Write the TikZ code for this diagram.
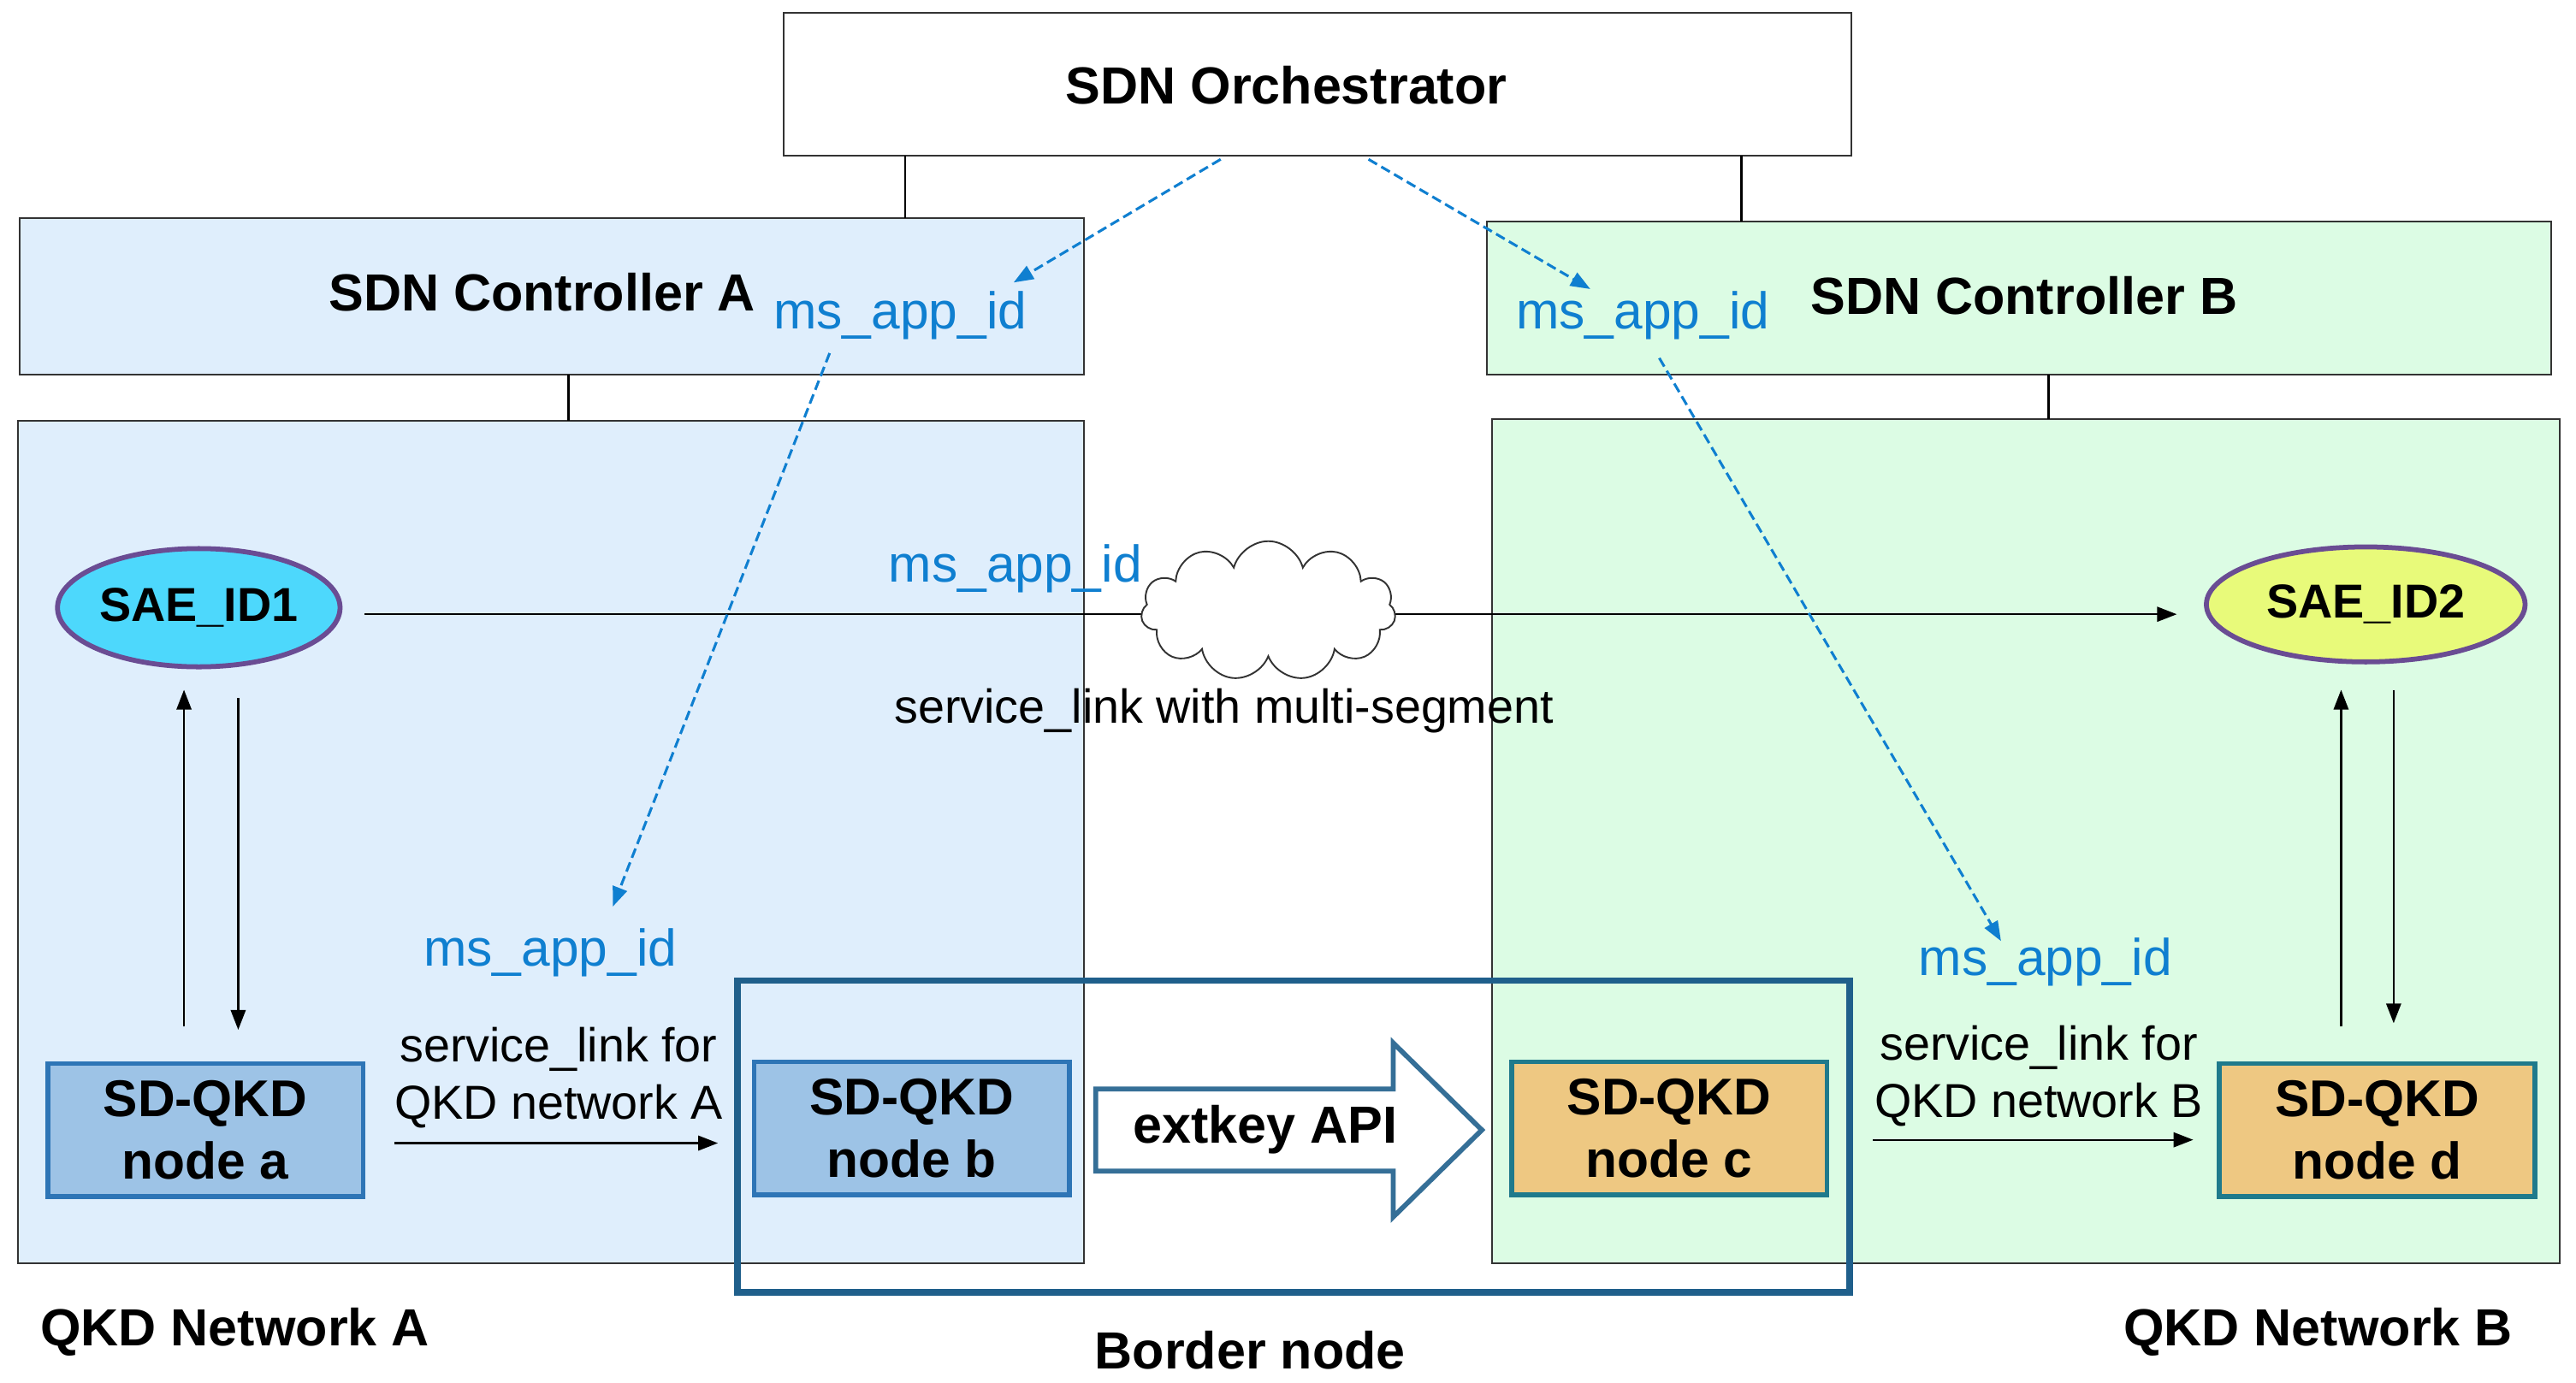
\documentclass[tikz,border=0pt]{standalone}
\usepackage{fontspec}
\setmainfont{Liberation Sans}
\usetikzlibrary{shapes.symbols,shapes.arrows,shapes.geometric,arrows.meta}
\definecolor{lblue}{HTML}{DFEEFC}
\definecolor{lgreen}{HTML}{DCFCE4}
\definecolor{idblue}{HTML}{0F7FD0}
\definecolor{nblue}{HTML}{9DC3E6}
\definecolor{nbord}{HTML}{2E75B6}
\definecolor{norange}{HTML}{EEC882}
\definecolor{nteal}{HTML}{1F7A8C}
\definecolor{bord}{HTML}{1F5F8B}
\definecolor{saeone}{HTML}{4DD8FC}
\definecolor{saetwo}{HTML}{E8FA7A}
\definecolor{saebd}{HTML}{6A4C93}
\begin{document}
\begin{tikzpicture}[x=1pt,y=-1pt,
  lbl/.style={font=\fontsize{31.8}{35}\selectfont\bfseries},
  idl/.style={text=idblue,font=\fontsize{31.5}{35}\selectfont},
  txt/.style={font=\fontsize{29}{35}\selectfont,align=center},
  box/.style={draw=black!80,line width=1pt},
  qkd/.style={draw=nbord,fill=nblue,line width=3pt,minimum width=192pt,minimum height=81pt,align=center,font=\fontsize{31.5}{38}\selectfont\bfseries,inner sep=0pt},
  qkdo/.style={qkd,draw=nteal,fill=norange},
  sae/.style={ellipse,draw=saebd,line width=3pt,inner sep=0pt,font=\fontsize{29}{30}\selectfont\bfseries},
  arr/.style={-{Triangle[length=12pt,width=9pt]},line width=1.2pt},
  dsh/.style={-{Triangle[length=12pt,width=9pt]},idblue,dash pattern=on 6pt off 3pt,line width=1.6pt}]
\useasboundingbox (0,0) rectangle (1568,842);
\fill[white] (0,0) rectangle (1568,842);
% boxes
\draw[box,fill=lblue] (12,133) rectangle (660,228);
\draw[box,fill=lgreen] (905,135) rectangle (1553,228);
\draw[box,fill=lblue] (11,256) rectangle (660,769);
\draw[box,fill=lgreen] (908,255) rectangle (1558,769);
\draw[box,fill=white] (477,8) rectangle (1127,95);
\draw[line width=1.3pt] (551,95)--(551,133) (1060,95)--(1060,135) (346,228)--(346,256) (1247,228)--(1247,255);
\node[lbl] (orch) at (783,52) {SDN Orchestrator};
\node[lbl] (ca) at (330,178) {SDN Controller A};
\node[lbl] (cb) at (1232,180) {SDN Controller B};
\node[idl] (ida) at (548,192) {ms\_app\_id};
\node[idl] (idb) at (1000,192) {ms\_app\_id};
% SAE
\node[sae,fill=saeone,minimum width=172pt,minimum height=72pt] (s1) at (121,370) {SAE\_ID1};
\node[sae,fill=saetwo,minimum width=194pt,minimum height=70pt] (s2) at (1440,368) {SAE\_ID2};
\coordinate (l1) at (222,374); \coordinate (l2) at (1325,374);
\draw[arr] (l1)--(l2);
\node[cloud,draw=black!80,fill=white,cloud puffs=11,minimum width=155pt,minimum height=85pt,line width=1pt] (cl) at (772,372) {};
\node[idl] (idm) at (618,346) {ms\_app\_id};
\node[txt] (sl) at (745,433) {service\_link with multi-segment};
% nodes
\node[qkd] (na) at (125,688) {SD-QKD\\node a};
\node[qkd] (nb) at (555,687) {SD-QKD\\node b};
\node[qkdo] (nc) at (1016,687) {SD-QKD\\node c};
\node[qkdo] (nd) at (1447,688) {SD-QKD\\node d};
\draw[draw=bord,line width=4pt] (449,597) rectangle (1126,787);
% vertical arrows
\coordinate (a1) at (112,625); \coordinate (a2) at (112,420);
\coordinate (a3) at (145,425); \coordinate (a4) at (145,627);
\draw[arr] (a1)--(a2); \draw[arr] (a3)--(a4);
\coordinate (b1) at (1425,625); \coordinate (b2) at (1425,420);
\coordinate (b3) at (1457,420); \coordinate (b4) at (1457,623);
\draw[arr] (b1)--(b2); \draw[arr] (b3)--(b4);
% service links
\node[txt] (sla) at (340,656) {service\_link for\\QKD network A};
\coordinate (c1) at (240,696); \coordinate (c2) at (437,696);
\draw[arr] (c1)--(c2);
\node[txt] (slb) at (1241,655) {service\_link for\\QKD network B};
\coordinate (d1) at (1140,694); \coordinate (d2) at (1335,694);
\draw[arr] (d1)--(d2);
% extkey arrow
\draw[draw=bord!90,fill=white,line width=3pt,line join=miter] (667,663)--(848,663)--(848,635)--(902,688)--(848,741)--(848,713)--(667,713)--cycle;
\node[lbl] (ek) at (770,688) {extkey API};
% ms ids
\node[idl] (idna) at (335,580) {ms\_app\_id};
\node[idl] (idnb) at (1245,586) {ms\_app\_id};
% dashed
\coordinate (o1) at (743,97); \coordinate (o2) at (833,97);
\coordinate (e1) at (617,172); \coordinate (e2) at (968,176);
\draw[dsh] (o1)--(e1); \draw[dsh] (o2)--(e2);
\coordinate (f1) at (505,215); \coordinate (f2) at (373,552);
\coordinate (g1) at (1010,218); \coordinate (g2) at (1218,573);
\draw[dsh] (f1)--(f2); \draw[dsh] (g1)--(g2);
% bottom labels
\node[lbl] (qa) at (143,811) {QKD Network A};
\node[lbl] (bn) at (761,822) {Border node};
\node[lbl] (qb) at (1411,811) {QKD Network B};
\end{tikzpicture}
\end{document}
